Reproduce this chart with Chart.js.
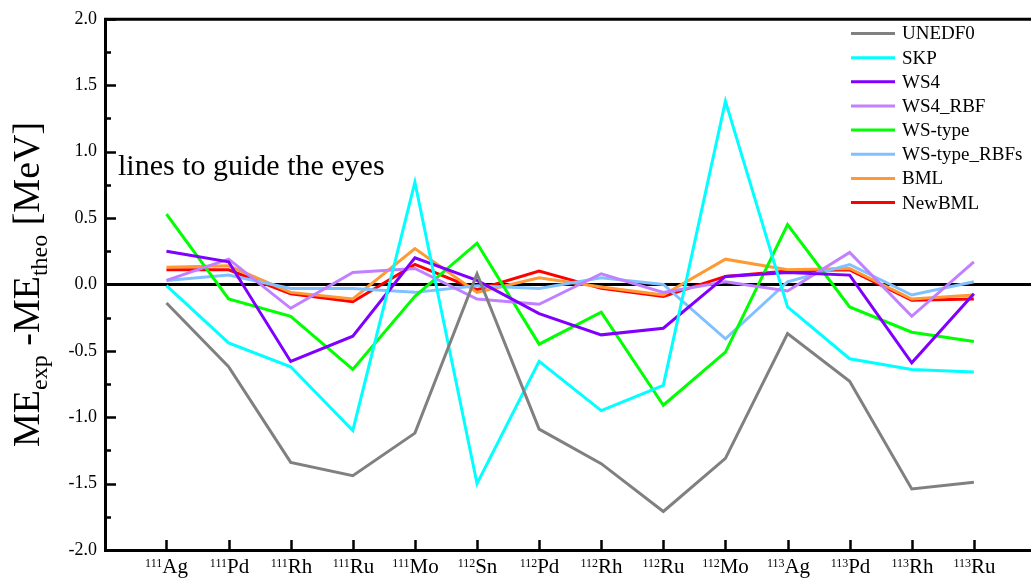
<!DOCTYPE html>
<html>
<head>
<meta charset="utf-8">
<script src="https://cdn.jsdelivr.net/npm/chart.js@4.4.1/dist/chart.umd.min.js"></script>
<style>
  html, body { margin: 0; padding: 0; background: #ffffff; }
  #wrap { width: 1031px; height: 580px; }
</style>
</head>
<body>
<div id="wrap"><canvas id="c" width="1031" height="580"></canvas></div>
<script>
// Nuclei along the x axis: mass number (superscript) and element symbol
const massNumbers = ['111','111','111','111','111','112','112','112','112','112','113','113','113','113'];
const elements    = ['Ag','Pd','Rh','Ru','Mo','Sn','Pd','Rh','Ru','Mo','Ag','Pd','Rh','Ru'];

// ME_exp - ME_theo [MeV] for each model
const unedf0     = [-0.14, -0.62, -1.34, -1.44, -1.12,  0.08, -1.09, -1.35, -1.71, -1.31, -0.37, -0.73, -1.54, -1.49];
const skp        = [-0.01, -0.44, -0.62, -1.10,  0.77, -1.50, -0.58, -0.95, -0.76,  1.38, -0.17, -0.56, -0.64, -0.66];
const ws4        = [ 0.25,  0.17, -0.58, -0.39,  0.20,  0.03, -0.22, -0.38, -0.33,  0.06,  0.09,  0.07, -0.59, -0.07];
const ws4Rbf     = [ 0.03,  0.19, -0.18,  0.09,  0.12, -0.11, -0.15,  0.08, -0.06,  0.02, -0.05,  0.24, -0.24,  0.17];
const wsType     = [ 0.53, -0.11, -0.24, -0.64, -0.09,  0.31, -0.45, -0.21, -0.91, -0.51,  0.45, -0.17, -0.36, -0.43];
const wsTypeRbfs = [ 0.03,  0.07, -0.03, -0.03, -0.06, -0.01, -0.03,  0.05,  0.00, -0.41,  0.02,  0.15, -0.08,  0.02];
const bml        = [ 0.13,  0.14, -0.06, -0.11,  0.27, -0.06,  0.05, -0.02, -0.08,  0.19,  0.11,  0.12, -0.11, -0.08];
const newBml     = [ 0.11,  0.11, -0.07, -0.13,  0.15, -0.04,  0.10, -0.03, -0.09,  0.06,  0.10,  0.11, -0.12, -0.11];

// Y axis range and tick steps
const yMin = -2.0, yMax = 2.0, yMajorStep = 0.5, yMinorStep = 0.25;

const seriesNames  = ['UNEDF0', 'SKP', 'WS4', 'WS4_RBF', 'WS-type', 'WS-type_RBFs', 'BML', 'NewBML'];
const seriesValues = [unedf0, skp, ws4, ws4Rbf, wsType, wsTypeRbfs, bml, newBml];
const seriesColors = ['#808080', '#00ffff', '#8000ff', '#c080ff', '#00ff00', '#80c0ff', '#ff9933', '#ff0000'];

const SERIF = '"Liberation Serif", "Times New Roman", serif';

const datasets = seriesNames.map((name, k) => ({
  label: name,
  data: seriesValues[k].map((v, i) => ({ x: i, y: v })),
  borderColor: seriesColors[k],
  backgroundColor: seriesColors[k],
  borderWidth: 3,
  pointRadius: 0,
  tension: 0,
  fill: false
}));

// Draws text pieces in sequence; each piece may be normal, superscript or subscript
function drawRich(ctx, pieces, x, y) {
  let cx = x;
  for (const p of pieces) {
    ctx.font = p.size + 'px ' + SERIF;
    ctx.fillText(p.text, cx, y + (p.dy || 0));
    cx += ctx.measureText(p.text).width;
  }
  return cx - x;
}
function richWidth(ctx, pieces) {
  let w = 0;
  for (const p of pieces) {
    ctx.font = p.size + 'px ' + SERIF;
    w += ctx.measureText(p.text).width;
  }
  return w;
}

const framePlugin = {
  id: 'frame',
  beforeDatasetsDraw(chart) {
    const { ctx, chartArea: a, scales: { y } } = chart;
    const y0 = Math.round(y.getPixelForValue(0)) + 0.5;
    ctx.save();
    ctx.strokeStyle = '#000';
    ctx.lineWidth = 3;
    ctx.beginPath();
    ctx.moveTo(a.left, y0);
    ctx.lineTo(a.right, y0);
    ctx.stroke();
    ctx.restore();
  },
  afterDraw(chart) {
    const { ctx, chartArea: a, scales: { x, y } } = chart;
    ctx.save();
    ctx.strokeStyle = '#000';
    ctx.fillStyle = '#000';

    // axis box: left, bottom, top
    ctx.lineWidth = 3;
    ctx.beginPath();
    ctx.moveTo(a.right, a.top + 0.5);
    ctx.lineTo(a.left + 0.5, a.top + 0.5);
    ctx.lineTo(a.left + 0.5, a.bottom + 0.5);
    ctx.lineTo(a.right, a.bottom + 0.5);
    ctx.stroke();

    // inward ticks on the y axis
    ctx.lineWidth = 2.5;
    const nMinor = Math.round((yMax - yMin) / yMinorStep);
    for (let k = 0; k <= nMinor; k++) {
      const v = yMin + k * yMinorStep;
      const py = Math.round(y.getPixelForValue(v)) + 0.5;
      const major = Math.abs(v / yMajorStep - Math.round(v / yMajorStep)) < 1e-6;
      ctx.beginPath();
      ctx.moveTo(a.left, py);
      ctx.lineTo(a.left + (major ? 11 : 6), py);
      ctx.stroke();
    }

    // inward ticks on the x axis and nucleus labels
    ctx.textBaseline = 'alphabetic';
    elements.forEach((el, i) => {
      const px = Math.round(x.getPixelForValue(i)) + 0.5;
      ctx.beginPath();
      ctx.moveTo(px, a.bottom);
      ctx.lineTo(px, a.bottom - 10);
      ctx.stroke();
      const pieces = [
        { text: massNumbers[i], size: 12, dy: -6 },
        { text: el, size: 21 }
      ];
      const w = richWidth(ctx, pieces);
      drawRich(ctx, pieces, px - w / 2, 573);
    });

    // y axis title, rotated
    const titlePieces = [
      { text: 'ME', size: 38 },
      { text: 'exp', size: 24, dy: 8 },
      { text: ' -ME', size: 38 },
      { text: 'theo', size: 24, dy: 8 },
      { text: ' [MeV]', size: 38 }
    ];
    const tw = richWidth(ctx, titlePieces);
    ctx.save();
    ctx.translate(39, (a.top + a.bottom) / 2);
    ctx.rotate(-Math.PI / 2);
    drawRich(ctx, titlePieces, -tw / 2, 0);
    ctx.restore();

    // note inside the plot
    ctx.font = '30px ' + SERIF;
    ctx.fillText('lines to guide the eyes', 118, 175);

    // legend, top right inside the plot
    ctx.textBaseline = 'middle';
    ctx.font = '19px ' + SERIF;
    seriesNames.forEach((name, k) => {
      const ly = 33.5 + k * 24.15;
      ctx.strokeStyle = seriesColors[k];
      ctx.lineWidth = 3;
      ctx.beginPath();
      ctx.moveTo(851, ly);
      ctx.lineTo(895, ly);
      ctx.stroke();
      ctx.fillStyle = '#000';
      ctx.fillText(name, 902, ly + 1);
    });
    ctx.restore();
  }
};

new Chart(document.getElementById('c'), {
  type: 'line',
  data: { datasets },
  options: {
    responsive: false,
    devicePixelRatio: 1,
    animation: false,
    layout: { padding: { top: 17, right: 0, left: 0, bottom: 0 } },
    plugins: { legend: { display: false }, tooltip: { enabled: false } },
    scales: {
      x: {
        type: 'linear',
        min: -0.99,
        max: 13.92,
        ticks: { display: false, stepSize: 1 },
        grid: { display: false, drawTicks: false },
        border: { display: false },
        afterFit(scale) { scale.height = 30; }
      },
      y: {
        min: yMin,
        max: yMax,
        ticks: {
          stepSize: yMajorStep,
          color: '#000',
          padding: 8,
          font: { family: SERIF, size: 18 },
          callback: v => v.toFixed(1)
        },
        grid: { display: false, drawTicks: false },
        border: { display: false },
        afterFit(scale) { scale.width = 105; }
      }
    }
  },
  plugins: [framePlugin]
});
</script>
</body>
</html>
